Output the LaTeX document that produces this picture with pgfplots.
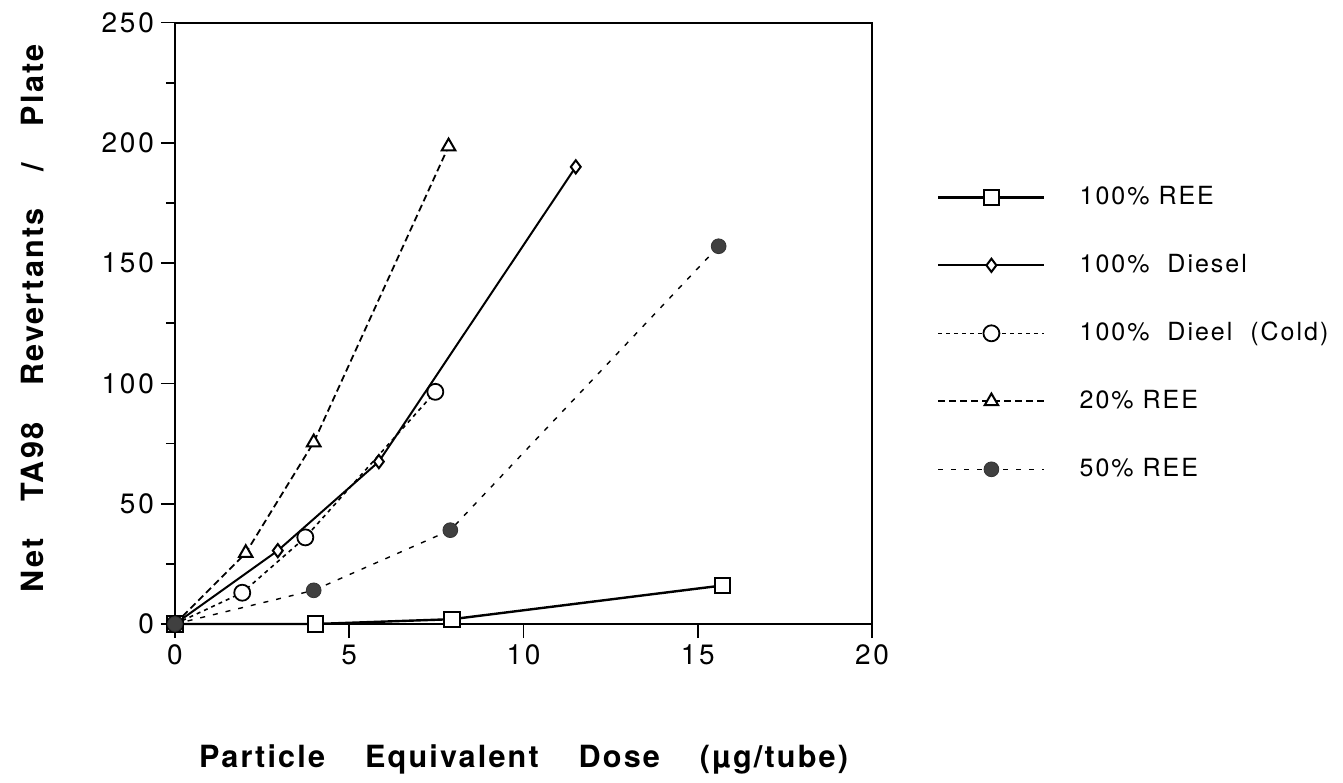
\documentclass[border=0pt]{standalone}
\usepackage{fontspec}
\setmainfont{TeX Gyre Heros}
\newfontfamily\tickfont[LetterSpace=10]{TeX Gyre Heros}
\newfontfamily\legfont[LetterSpace=8]{TeX Gyre Heros}
\newfontfamily\labfont[LetterSpace=7]{TeX Gyre Heros}
\usepackage{pgfplots}
\pgfplotsset{compat=1.18}
\begin{document}
\begin{tikzpicture}
\useasboundingbox (-87.5pt,-79pt) rectangle (584pt,312pt);
\begin{axis}[
  scale only axis, width=348.5pt, height=300.75pt,
  at={(0,0)}, anchor=south west,
  xmin=0, xmax=20, ymin=0, ymax=250,
  xtick={0,5,10,15,20}, ytick={0,50,100,150,200,250},
  minor ytick={25,75,125,175,225},
  tick pos=left, tick align=outside,
  major tick length=7pt, minor tick length=4.5pt,
  every tick/.style={black, line width=0.9pt},
  axis line style={line width=1pt},
  clip=false,
  /pgf/number format/assume math mode=true,
  tick label style={font=\fontsize{14}{16}\tickfont},
  xlabel={Particle\hspace{20pt}Equivalent\hspace{20pt}Dose\hspace{20pt}(µg/tube)},
  ylabel={Net\hspace{18.5pt}TA98\hspace{18.5pt}Revertants\hspace{18.5pt}/\hspace{18.5pt}Plate},
  label style={font=\fontsize{15.3}{18}\labfont\bfseries},
  xlabel style={at={(axis description cs:0.5,-0.2245)}, anchor=center},
  ylabel style={at={(axis description cs:-0.205,0.508)}, anchor=center},
  legend style={at={(rel axis cs:1.093,0.730)}, anchor=north west, draw=none, fill=none,
    inner sep=0pt, row sep=22pt, column sep=17pt,
    font=\fontsize{12.5}{15}\legfont,
    nodes={inner sep=0pt, text height=9.5pt, text depth=2.5pt}},
  legend cell align=left,
  legend image code/.code={\draw[mark repeat=2,mark phase=2] plot coordinates {(0pt,0pt)(26.5pt,0pt)(53pt,0pt)};},
]
\addplot[black, line width=1.2pt, mark=square*, mark size=3.8pt, mark options={solid, fill=white, line width=1pt}]
  coordinates {(0,0)(4.03,0)(7.95,2)(15.7,16)};
\addlegendentry{100\% REE}
\addplot[black, line width=1pt, mark=diamond*, mark size=3.3pt, mark options={solid, fill=white, line width=1pt}]
  coordinates {(0,0)(2.95,30.5)(5.85,67.5)(11.5,190)};
\addlegendentry{100\%\ \ Diesel}
\addplot[black, line width=0.8pt, dash pattern=on 2pt off 2pt, mark=*, mark size=4pt, mark options={solid, fill=white, line width=0.9pt}]
  coordinates {(0,0)(1.93,13)(3.74,36)(7.47,96.5)};
\addlegendentry{100\%\ \ Dieel\ \ (Cold)}
\addplot[black, line width=0.9pt, dash pattern=on 3.5pt off 2pt, mark=triangle*, mark size=3.9pt, mark options={solid, fill=white, line width=1pt}]
  coordinates {(0,0)(2.03,29.5)(3.98,75.5)(7.85,198.5)};
\addlegendentry{20\% REE}
\addplot[black, line width=0.7pt, dash pattern=on 2.5pt off 4pt, mark=*, mark size=3.7pt, mark options={solid, fill=black!75, draw=black!80, line width=0.4pt}]
  coordinates {(0,0)(3.98,14)(7.9,39)(15.6,157)};
\addlegendentry{50\% REE}
\end{axis}
\end{tikzpicture}
\end{document}
